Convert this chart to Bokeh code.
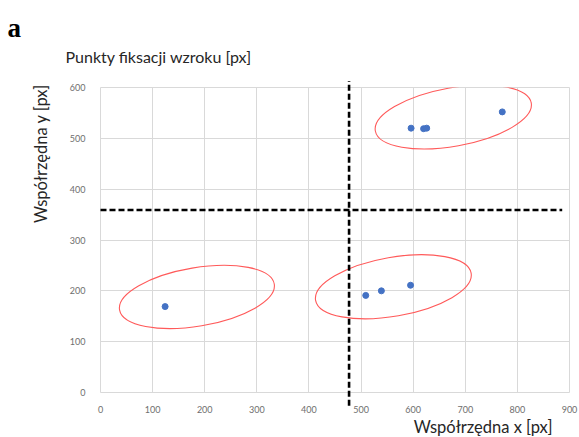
import math

from bokeh.plotting import figure
from bokeh.models import Range1d, FixedTicker
from bokeh.core.properties import value
from bokeh.embed import file_html
from bokeh.resources import INLINE

# Gaze fixation points [px]
fix_x = [124, 509, 539, 595, 596, 620, 626, 771]
fix_y = [169, 191, 200, 211, 520, 519, 520, 552]

# Cluster outlines around groups of fixations
cluster_x = [185, 562, 677]
cluster_y = [188, 208, 542]
cluster_w = [301, 303, 304]
cluster_h = [115, 116, 115]
cluster_angle_deg = [9.5, 9.9, 10.2]

# Quadrant split lines
split_x = 477
split_y = 359
split_x_extent = [-26, 613]   # vertical line, along y
split_y_extent = [0, 886]     # horizontal line, along x

x_ticks = [0, 100, 200, 300, 400, 500, 600, 700, 800, 900]
y_ticks = [0, 100, 200, 300, 400, 500, 600]

W, H = 579, 437
LEFT, RIGHT, TOP, BOTTOM = 100, 10, 87, 45
X_MAX, Y_MAX = 900, 600


def px_to_x(px):
    return (px - LEFT) * X_MAX / (W - LEFT - RIGHT)


def px_to_y(py):
    return (H - BOTTOM - py) * Y_MAX / (H - TOP - BOTTOM)


p = figure(width=W, height=H, output_backend="svg", toolbar_location=None,
           x_range=Range1d(0, X_MAX), y_range=Range1d(0, Y_MAX),
           min_border_left=LEFT, min_border_right=RIGHT,
           min_border_top=TOP, min_border_bottom=BOTTOM,
           background_fill_color="white", border_fill_color="white",
           outline_line_color="#D9D9D9")

# axes
p.xaxis.ticker = FixedTicker(ticks=x_ticks)
p.yaxis.ticker = FixedTicker(ticks=y_ticks)
for ax in (p.xaxis, p.yaxis):
    ax.axis_line_color = None
    ax.major_tick_line_color = None
    ax.minor_tick_line_color = None
    ax.major_label_text_font = "Lato"
    ax.major_label_text_font_size = "9px"
    ax.major_label_text_color = "#6E6E6E"
p.xaxis.major_label_standoff = 7
p.yaxis.major_label_standoff = 9

p.xgrid.ticker = FixedTicker(ticks=x_ticks)
p.ygrid.ticker = FixedTicker(ticks=y_ticks)
p.grid.grid_line_color = "#D9D9D9"
p.grid.grid_line_width = 1

# cluster ellipses
p.ellipse(x=cluster_x, y=cluster_y, width=cluster_w, height=cluster_h,
          angle=[math.radians(d) for d in cluster_angle_deg],
          fill_color=None, line_color="#FF5A5A", line_width=1.1)

# fixation points
p.scatter(fix_x, fix_y, size=6, marker="circle",
          fill_color="#4472C4", line_color="#4472C4")

# dashed quadrant split lines, allowed to run past the frame
p.segment(x0=[split_x, split_y_extent[0]], y0=[split_x_extent[0], split_y],
          x1=[split_x, split_y_extent[1]], y1=[split_x_extent[1], split_y],
          line_color="black", line_width=2.6, line_dash="6 3",
          level="overlay")


def add_text(px, py, txt, size, align, baseline="alphabetic", angle=0.0,
             font="Lato", style="normal", color="#262626"):
    p.text(x=[px_to_x(px)], y=[px_to_y(py)], text=[txt], angle=angle,
           text_font=value(font), text_font_size=value(size),
           text_font_style=style, text_color=color,
           text_align=align, text_baseline=baseline, level="overlay")


add_text(65, 56, "Punkty fiksacji wzroku [px]", "16px", "left")
add_text(552, 426, "Współrzędna x [px]", "16.5px", "right")
add_text(40, 153, "Współrzędna y [px]", "16.5px", "center", baseline="middle",
         angle=math.pi / 2)
add_text(7, 27, "a", "27px", "left", font="Liberation Serif", style="bold",
         color="black")

open("out.html", "w").write(file_html(p, INLINE))
